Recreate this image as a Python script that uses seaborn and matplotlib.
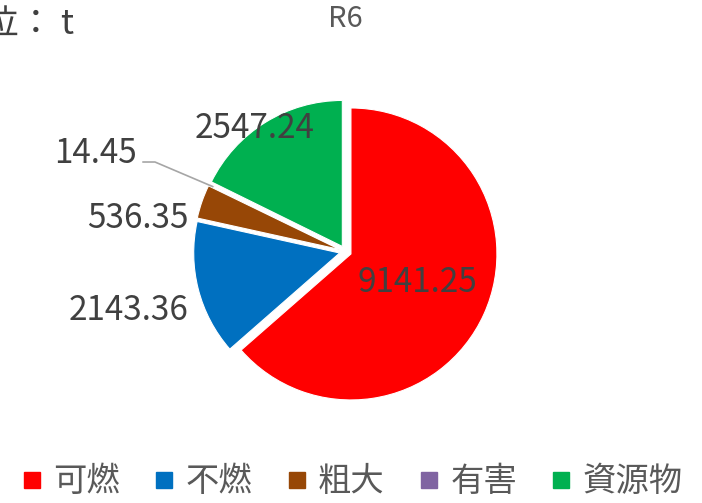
# 円グラフ（R6 ごみ排出量）
import matplotlib.pyplot as plt
from matplotlib.lines import Line2D
import numpy as np
import seaborn as sns

sns.set_style('white')
plt.rcParams['font.family'] = ['Noto Sans CJK JP', 'DejaVu Sans']

# データ
categories = ['可燃', '不燃', '粗大', '有害', '資源物']
values = [9141.25, 2143.36, 536.35, 14.45, 2547.24]
value_labels = ['9141.25', '2143.36', '536.35', '14.45', '2547.24']
colors = ['#FF0000', '#0070C0', '#974706', '#8064A2', '#00B050']

# ラベル位置（半径1基準の座標）
label_pos = [(0.493, -0.212), (-1.486, -0.401), (-1.42, 0.226), (-1.71, 0.67), (-0.62, 0.84)]

fig = plt.figure(figsize=(7.02, 5.03), dpi=100)
ax = fig.add_axes([0.2426, 0.1517, 0.4991, 0.6966])

wedges, _ = ax.pie(values, colors=colors, startangle=90, counterclock=False,
                   explode=[0.041] * len(values), radius=1,
                   wedgeprops=dict(edgecolor='white', linewidth=0.8))
ax.set_xlim(-1.2, 1.2)
ax.set_ylim(-1.2, 1.2)
ax.set_aspect('equal')
ax.axis('off')

for (x, y), txt in zip(label_pos, value_labels):
    ax.text(x, y, txt, ha='center', va='center', fontsize=24, color='#404040')

# 有害の引き出し線
w = wedges[3]
mid = np.deg2rad((w.theta1 + w.theta2) / 2)
cx, cy = w.center
tip = (cx + 0.97 * np.cos(mid), cy + 0.97 * np.sin(mid))
ax.plot([-1.388, -1.305, tip[0]], [0.613, 0.613, tip[1]], color='#A6A6A6',
        linewidth=1.2, clip_on=False)

# タイトル・単位
fig.text(0.492, 0.963, 'R6', ha='center', va='center', fontsize=21, color='#595959')
fig.text(-0.072, 0.952, '単位： t', ha='left', va='center', fontsize=25, color='#404040')

# 凡例
handles = [Line2D([], [], marker='s', linestyle='none', markersize=11.5,
                  markerfacecolor=c, markeredgecolor=c) for c in colors]
fig.legend(handles, categories, loc='center', bbox_to_anchor=(0.503, 0.042),
           ncol=5, frameon=False, fontsize=24, handlelength=0.5, borderpad=0,
           handletextpad=0.39, columnspacing=1.08, labelcolor='#595959')

fig.savefig('out.png', dpi=100)
